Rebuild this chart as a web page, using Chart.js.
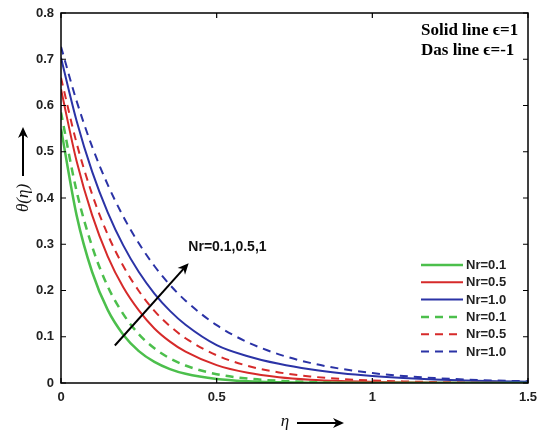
<!DOCTYPE html>
<html>
<head>
<meta charset="utf-8">
<script src="https://cdn.jsdelivr.net/npm/chart.js@4/dist/chart.umd.min.js"></script>
<style>
html, body { margin: 0; padding: 0; background: #fff; }
#wrap { width: 541px; height: 432px; position: relative; }
</style>
</head>
<body>
<div id="wrap"><canvas id="myChart"></canvas></div>
<script>
const eta = [0, 0.05, 0.1, 0.15, 0.2, 0.25, 0.3, 0.35, 0.4, 0.5, 0.6, 0.7, 0.8, 0.9, 1.0, 1.1, 1.2, 1.3, 1.4, 1.5];

// solid lines (eps = 1)
const greenSolid = [0.55, 0.363, 0.240, 0.158, 0.1045, 0.069, 0.0456, 0.0301, 0.0199, 0.0087, 0.0038, 0.0017, 0.0007, 0.0003, 0.0001, 0, 0, 0, 0, 0];
const redSolid   = [0.635, 0.480, 0.363, 0.274, 0.207, 0.157, 0.118, 0.0895, 0.0676, 0.0386, 0.022, 0.0126, 0.0072, 0.0041, 0.0024, 0.0013, 0.0008, 0.0004, 0.0003, 0.0002];
const blueSolid  = [0.703, 0.567, 0.457, 0.369, 0.2975, 0.240, 0.1935, 0.156, 0.126, 0.082, 0.058, 0.0415, 0.0295, 0.021, 0.015, 0.0107, 0.0076, 0.0054, 0.0038, 0.0027];

// dashed lines (eps = -1)
const greenDash = [0.585, 0.415, 0.295, 0.209, 0.149, 0.1055, 0.0749, 0.0532, 0.0378, 0.019, 0.0096, 0.0048, 0.0024, 0.0012, 0.0006, 0.0003, 0.0002, 0.0001, 0.0001, 0];
const redDash   = [0.66, 0.519, 0.408, 0.321, 0.253, 0.199, 0.156, 0.123, 0.0968, 0.0599, 0.037, 0.0229, 0.0142, 0.0088, 0.0054, 0.0034, 0.0021, 0.0013, 0.0008, 0.0005];
const blueDash  = [0.727, 0.610, 0.511, 0.429, 0.360, 0.302, 0.253, 0.212, 0.178, 0.125, 0.088, 0.062, 0.0435, 0.0306, 0.0215, 0.0151, 0.0106, 0.0075, 0.0053, 0.0037];

const labels = ["Nr=0.1", "Nr=0.5", "Nr=1.0", "Nr=0.1", "Nr=0.5", "Nr=1.0"];
const xTicks = [0, 0.5, 1, 1.5];
const yTicks = [0, 0.1, 0.2, 0.3, 0.4, 0.5, 0.6, 0.7, 0.8];

const GREEN = "#4cbf4c", RED = "#d62a2a", BLUE = "#2b33a6";

function pts(ys) {
  return eta.map((x, i) => ({ x: x, y: ys[i] }));
}

function line(label, ys, color, dashed, w) {
  return {
    label: label,
    data: pts(ys),
    borderColor: color,
    borderWidth: w || 2,
    borderDash: dashed ? [8, 6] : [],
    pointRadius: 0,
    fill: false,
    cubicInterpolationMode: "monotone",
  };
}

const data = {
  datasets: [
    line(labels[0], greenSolid, GREEN, false, 2.5),
    line(labels[1], redSolid, RED, false),
    line(labels[2], blueSolid, BLUE, false),
    line(labels[3], greenDash, GREEN, true, 2.5),
    line(labels[4], redDash, RED, true),
    line(labels[5], blueDash, BLUE, true),
  ],
};

function arrow(ctx, x1, y1, x2, y2, w) {
  const a = Math.atan2(y2 - y1, x2 - x1);
  const hl = 11, hw = 5;
  ctx.save();
  ctx.strokeStyle = "#000";
  ctx.fillStyle = "#000";
  ctx.lineWidth = w || 2;
  ctx.beginPath();
  ctx.moveTo(x1, y1);
  ctx.lineTo(x2 - Math.cos(a) * hl * 0.7, y2 - Math.sin(a) * hl * 0.7);
  ctx.stroke();
  ctx.beginPath();
  ctx.moveTo(x2, y2);
  ctx.lineTo(x2 - Math.cos(a) * hl + Math.sin(a) * hw, y2 - Math.sin(a) * hl - Math.cos(a) * hw);
  ctx.lineTo(x2 - Math.cos(a) * hl * 0.7, y2 - Math.sin(a) * hl * 0.7);
  ctx.lineTo(x2 - Math.cos(a) * hl - Math.sin(a) * hw, y2 - Math.sin(a) * hl + Math.cos(a) * hw);
  ctx.closePath();
  ctx.fill();
  ctx.restore();
}

// frame, inward ticks, legend and the annotations
const decor = {
  id: "decor",
  afterDatasetsDraw(chart) {
    const ctx = chart.ctx;
    const a = chart.chartArea;
    const xs = chart.scales.x, ys = chart.scales.y;
    ctx.save();
    ctx.strokeStyle = "#000";
    ctx.lineWidth = 1.5;
    ctx.strokeRect(a.left, a.top, a.right - a.left, a.bottom - a.top);
    ctx.lineWidth = 1.2;
    ctx.beginPath();
    xTicks.forEach(v => {
      const p = xs.getPixelForValue(v);
      ctx.moveTo(p, a.bottom); ctx.lineTo(p, a.bottom - 5);
      ctx.moveTo(p, a.top); ctx.lineTo(p, a.top + 5);
    });
    yTicks.forEach(v => {
      const p = ys.getPixelForValue(v);
      ctx.moveTo(a.left, p); ctx.lineTo(a.left + 5, p);
      ctx.moveTo(a.right, p); ctx.lineTo(a.right - 5, p);
    });
    ctx.stroke();

    // legend
    ctx.font = "bold 13px 'Liberation Sans', Arial, sans-serif";
    ctx.textBaseline = "middle";
    ctx.textAlign = "left";
    chart.data.datasets.forEach((d, i) => {
      const y = 265 + i * 17.3;
      ctx.strokeStyle = d.borderColor;
      ctx.lineWidth = d.borderWidth;
      ctx.setLineDash(d.borderDash);
      ctx.beginPath();
      ctx.moveTo(421, y); ctx.lineTo(463, y);
      ctx.stroke();
      ctx.setLineDash([]);
      ctx.fillStyle = "#222";
      ctx.fillText(d.label, 466, y + 0.5);
    });

    // eps notes
    ctx.fillStyle = "#000";
    ctx.font = "bold 17px 'Liberation Serif', 'Times New Roman', serif";
    ctx.fillText("Solid line \u03f5=1", 421, 31);
    ctx.fillText("Das line \u03f5=-1", 421, 51);

    // Nr arrow
    arrow(ctx, xs.getPixelForValue(0.173), ys.getPixelForValue(0.081),
               xs.getPixelForValue(0.41), ys.getPixelForValue(0.259), 2);
    ctx.fillStyle = "#111";
    ctx.font = "bold 14px 'Liberation Sans', Arial, sans-serif";
    ctx.fillText("Nr=0.1,0.5,1", xs.getPixelForValue(0.409), ys.getPixelForValue(0.294));

    // axis titles
    ctx.font = "italic 17px 'Liberation Serif', 'Times New Roman', serif";
    ctx.textAlign = "center";
    ctx.fillText("\u03b7", 285, 422);
    arrow(ctx, 297, 423, 344, 423, 2);
    ctx.save();
    ctx.translate(24, 198);
    ctx.rotate(-Math.PI / 2);
    ctx.fillText("\u03b8(\u03b7)", 0, 0);
    ctx.restore();
    arrow(ctx, 23, 176, 23, 127, 2);
    ctx.restore();
  },
};

const tickFont = { family: "'Liberation Sans', Arial, sans-serif", size: 13, weight: "bold" };

const config = {
  type: "line",
  data: data,
  options: {
    responsive: true,
    maintainAspectRatio: false,
    animation: false,
    devicePixelRatio: 1,
    layout: { padding: { top: 13, right: 13, left: 0, bottom: 0 } },
    plugins: {
      legend: { display: false },
      tooltip: { enabled: false },
    },
    scales: {
      x: {
        type: "linear",
        min: 0,
        max: 1.5,
        afterFit: s => { s.height = 49; s.paddingLeft = 0; s.paddingRight = 0; },
        afterBuildTicks: s => { s.ticks = xTicks.map(v => ({ value: v })); },
        grid: { display: false, drawTicks: false },
        border: { display: false },
        ticks: { font: tickFont, color: "#222", padding: 7, maxRotation: 0, callback: v => String(v) },
      },
      y: {
        min: 0,
        max: 0.8,
        afterFit: s => { s.width = 61; s.paddingTop = 0; s.paddingBottom = 0; },
        afterBuildTicks: s => { s.ticks = yTicks.map(v => ({ value: v })); },
        grid: { display: false, drawTicks: false },
        border: { display: false },
        ticks: { font: tickFont, color: "#222", padding: 7, callback: v => String(v) },
      },
    },
  },
  plugins: [decor],
};

let myChart = new Chart(document.getElementById("myChart"), config);
</script>
</body>
</html>
